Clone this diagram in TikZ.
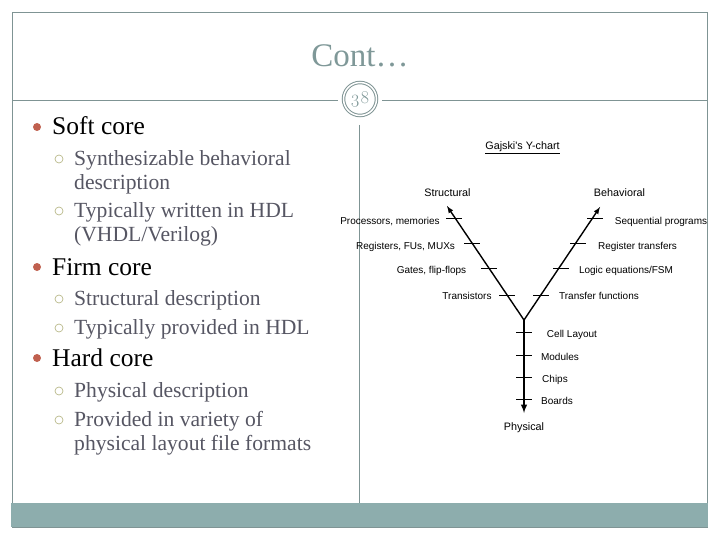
\documentclass[tikz,border=0pt]{standalone}
\usepackage{fontspec}
\setmainfont{Liberation Serif}
\newfontfamily\chartfont{Liberation Sans}
\newfontfamily\numfont[Numbers=OldStyle]{Latin Modern Roman}
\definecolor{slideline}{HTML}{7F9494}
\definecolor{slidebar}{HTML}{8DADAD}
\definecolor{slidetitle}{HTML}{7F9898}
\definecolor{subtext}{HTML}{565663}
\definecolor{dotred}{HTML}{C0604F}
\definecolor{dotring}{HTML}{B9B98A}
\tikzset{
  headtext/.style={anchor=base west,inner sep=0pt,font=\fontsize{25.5}{25.5}\selectfont},
  subtextnode/.style={anchor=north west,inner sep=0pt,align=left,text=subtext,font=\fontsize{21.6}{24}\selectfont},
  headdot/.style={circle,fill=dotred,inner sep=0pt,minimum size=8pt},
  subdot/.style={circle,draw=dotring,line width=0.7pt,inner sep=0pt,minimum size=8pt},
  chartlabel/.style={inner sep=0pt,text height=7pt,text depth=2pt,yshift=-1pt,font=\chartfont\fontsize{10}{10}\selectfont},
  axislabel/.style={chartlabel,font=\chartfont\fontsize{10.8}{10}\selectfont},
  axis/.style={line width=1.4pt,-latex},
  tick/.style={line width=0.6pt}
}
\begin{document}
\begin{tikzpicture}[x=1pt,y=-1pt]
	\useasboundingbox (0,0) rectangle (720,540);

	% Slide frame
	\draw[slideline,line width=0.8pt] (12,12) rectangle (707,527);
	\fill[slidebar] (11,503) rectangle (708,527);

	% Title and page number
	\node[inner sep=0pt,text=slidetitle,font=\fontsize{33}{33}\selectfont] (title) at (360,56) {Cont\ldots};
	\node[circle,draw=slideline,line width=1pt,double,double distance=1.5pt,inner sep=0pt,minimum size=33pt,text=slidetitle,font=\numfont\fontsize{18}{18}\selectfont] (pagenum) at (360,99) {38};
	\coordinate (ruleleft) at (12,100);
	\coordinate (ruleright) at (707,100);
	\coordinate (splittop) at (359,125);
	\coordinate (splitbottom) at (359,503);
	\draw[slideline,line width=0.7pt] (ruleleft) -- ([xshift=-5pt]pagenum.west |- ruleleft);
	\draw[slideline,line width=0.7pt] ([xshift=5pt]pagenum.east |- ruleright) -- (ruleright);
	\draw[slideline,line width=0.7pt] (splittop) -- (splitbottom);

	% Left column
	\node[headdot] (softdot) at (37,127) {};
	\node[headtext] (soft) at (52,135) {Soft core};
	\node[subdot] (synthdot) at (59,159) {};
	\node[subtextnode] (synth) at (74,150) {Synthesizable behavioral\\description};
	\node[subdot] (hdldot) at (59,211) {};
	\node[subtextnode] (hdl) at (74,202) {Typically written in HDL\\(VHDL/Verilog)};

	\node[headdot] (firmdot) at (37,267) {};
	\node[headtext] (firm) at (52,275) {Firm core};
	\node[subdot] (structdot) at (59,299) {};
	\node[subtextnode] (struct) at (74,290) {Structural description};
	\node[subdot] (provdot) at (59,328) {};
	\node[subtextnode] (prov) at (74,319) {Typically provided in HDL};

	\node[headdot] (harddot) at (37,358) {};
	\node[headtext] (hard) at (52,366) {Hard core};
	\node[subdot] (physdot) at (59,391) {};
	\node[subtextnode] (phys) at (74,382) {Physical description};
	\node[subdot] (varietydot) at (59,420) {};
	\node[subtextnode] (variety) at (74,411) {Provided in variety of\\physical layout file formats};

	% Chart title and axis names
	\node[axislabel] (chart) at (522.5,146) {\underline{Gajski's Y-chart}};
	\node[axislabel] (structural) at (447.5,193) {Structural};
	\node[axislabel] (behavioral) at (619.5,193) {Behavioral};
	\node[axislabel] (physical) at (524,427) {Physical};

	% Axes
	\coordinate (joint) at (524,320);
	\coordinate (structend) at (447,206);
	\coordinate (behavend) at (600,207);
	\coordinate (physend) at (524,413);
	\draw[axis] (joint) -- (structend);
	\draw[axis] (joint) -- (behavend);
	\draw[axis,line width=1.9pt] (joint) -- (physend);

	% Ticks
	\foreach \name/\x/\y in {s1/454/218,s2/472/243,s3/489/268,s4/507/295,
			b1/595/218,b2/578/243,b3/561/268,b4/541/295,
			p1/524/332,p2/524/355,p3/524/377,p4/524/399} {
		\coordinate (\name) at (\x,\y);
		\draw[tick] ([xshift=-8pt]\name) -- ([xshift=8pt]\name);
	}

	% Structural labels
	\node[chartlabel] (procs) at (390,221) {Processors, memories};
	\node[chartlabel] (regs) at (405.5,246) {Registers, FUs, MUXs};
	\node[chartlabel] (gates) at (431.5,270) {Gates, flip-flops};
	\node[chartlabel] (trans) at (467,296) {Transistors};

	% Behavioral labels
	\node[chartlabel] (seq) at (661,221) {Sequential programs};
	\node[chartlabel] (regtrans) at (637.5,246) {Register transfers};
	\node[chartlabel] (logic) at (626,270) {Logic equations/FSM};
	\node[chartlabel] (transfer) at (599,296) {Transfer functions};

	% Physical labels
	\node[chartlabel] (cell) at (572,334) {Cell Layout};
	\node[chartlabel] (modules) at (560,357) {Modules};
	\node[chartlabel] (chips) at (555,379) {Chips};
	\node[chartlabel] (boards) at (557,401) {Boards};
\end{tikzpicture}
\end{document}
